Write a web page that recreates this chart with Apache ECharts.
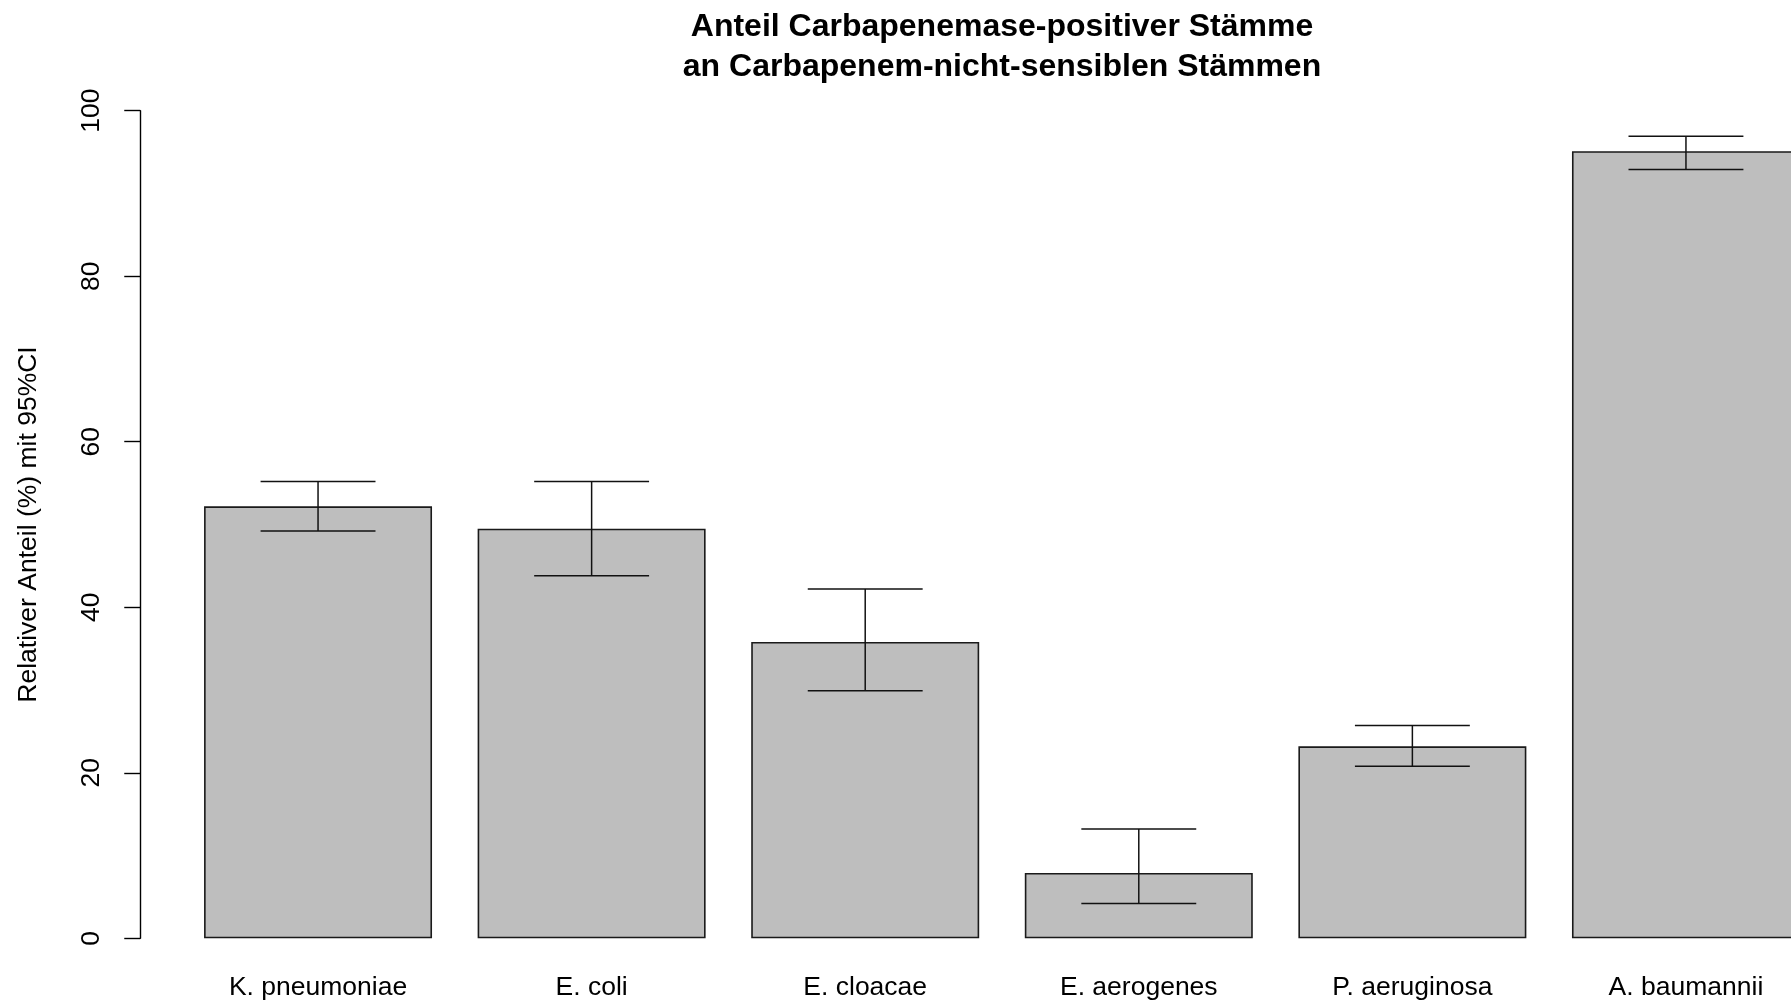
<!DOCTYPE html>
<html>
<head>
<meta charset="utf-8">
<title>Anteil Carbapenemase-positiver Stämme</title>
<script src="https://cdn.jsdelivr.net/npm/echarts@6/dist/echarts.min.js"></script>
<style>
  html, body { margin: 0; padding: 0; background: #ffffff; }
  #chart { width: 1791px; height: 1004px; }
</style>
</head>
<body>
<div id="chart"></div>
<script>
// Species (x categories)
const categories = ['K. pneumoniae', 'E. coli', 'E. cloacae', 'E. aerogenes', 'P. aeruginosa', 'A. baumannii'];
// Share of carbapenemase-positive strains (%)
const anteil = [52.2, 49.5, 35.8, 7.9, 23.2, 95.1];
// 95% confidence interval bounds (%)
const ciLower = [49.2, 43.8, 29.9, 4.2, 20.8, 92.9];
const ciUpper = [55.2, 55.2, 42.2, 13.2, 25.7, 96.9];
// Y axis scale
const yMin = 0;
const yMax = 100;
const yStep = 20;

const FONT = '"Liberation Sans", Arial, Helvetica, sans-serif';
const chart = echarts.init(document.getElementById('chart'), null, { renderer: 'canvas' });

const ciData = categories.map((c, i) => [i, ciLower[i], ciUpper[i]]);

chart.setOption({
  animation: false,
  backgroundColor: '#ffffff',
  title: {
    text: 'Anteil Carbapenemase-positiver Stämme\nan Carbapenem-nicht-sensiblen Stämmen',
    left: 1002,
    top: 7.5,
    padding: 0,
    textAlign: 'center',
    textStyle: {
      fontFamily: FONT,
      fontWeight: 'bold',
      fontSize: 32,
      lineHeight: 40,
      color: '#000000'
    }
  },
  grid: {
    left: 181.25,
    right: -31.75,
    top: 110.7,
    bottom: 65.7,
    containLabel: false,
    outerBoundsMode: 'none'
  },
  xAxis: {
    type: 'category',
    data: categories,
    boundaryGap: true,
    axisLine: { show: false },
    axisTick: { show: false },
    splitLine: { show: false },
    axisLabel: {
      interval: 0,
      margin: 34,
      fontFamily: FONT,
      fontSize: 26.5,
      lineHeight: 30,
      color: '#000000'
    }
  },
  yAxis: {
    type: 'value',
    min: yMin,
    max: yMax,
    interval: yStep,
    offset: 41,
    name: 'Relativer Anteil (%) mit 95%CI',
    nameLocation: 'middle',
    nameRotate: 90,
    nameGap: 96.5,
    nameTextStyle: {
      fontFamily: FONT,
      fontSize: 26.5,
      lineHeight: 30,
      color: '#000000'
    },
    axisLine: { show: true, lineStyle: { color: '#000000', width: 1.4 } },
    axisTick: { show: true, length: 16, lineStyle: { color: '#000000', width: 1.4 } },
    splitLine: { show: false },
    axisLabel: {
      rotate: 90,
      margin: 34,
      fontFamily: FONT,
      fontSize: 26.5,
      lineHeight: 30,
      color: '#000000'
    }
  },
  series: [
    {
      type: 'bar',
      data: anteil,
      barWidth: '83.333%',
      itemStyle: {
        color: '#bebebe',
        borderColor: '#1a1a1a',
        borderWidth: 1.6
      },
      emphasis: { disabled: true },
      z: 2
    },
    {
      type: 'custom',
      data: ciData,
      encode: { x: 0, y: [1, 2] },
      z: 3,
      renderItem: function (params, api) {
        const idx = api.value(0);
        const lo = api.coord([idx, api.value(1)]);
        const hi = api.coord([idx, api.value(2)]);
        const half = api.size([1, 0])[0] * 0.21;
        const style = { stroke: '#111111', lineWidth: 1.5 };
        return {
          type: 'group',
          children: [
            { type: 'line', shape: { x1: hi[0], y1: hi[1], x2: lo[0], y2: lo[1] }, style: style },
            { type: 'line', shape: { x1: hi[0] - half, y1: hi[1], x2: hi[0] + half, y2: hi[1] }, style: style },
            { type: 'line', shape: { x1: lo[0] - half, y1: lo[1], x2: lo[0] + half, y2: lo[1] }, style: style }
          ]
        };
      }
    }
  ]
});
</script>
</body>
</html>
